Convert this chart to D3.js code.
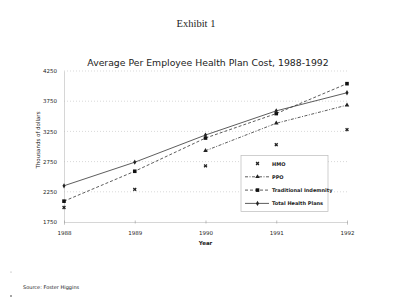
<!DOCTYPE html>
<html>
<head>
<meta charset="utf-8">
<script src="https://cdn.jsdelivr.net/npm/d3@7"></script>
<style>
  body { margin: 0; background: #fff; }
  svg { display: block; }
</style>
</head>
<body>
<script>
// chart data
var years = [1988, 1989, 1990, 1991, 1992];
var hmo = [1990, 2290, 2680, 3030, 3280];
var ppo = [null, null, 2930, 3385, 3685];
var traditional = [2095, 2590, 3140, 3545, 4040];
var totalPlans = [2350, 2740, 3190, 3590, 3890];
var yTicks = [1750, 2250, 2750, 3250, 3750, 4250];
var seriesNames = ['HMO', 'PPO', 'Traditional Indemnity', 'Total Health Plans'];

var W = 400, H = 305;
var svg = d3.select('body').append('svg').attr('width', W).attr('height', H);

var x = d3.scaleLinear().domain([1988, 1992]).range([64, 347]);
var y = d3.scaleLinear().domain([1750, 4250]).range([222, 71]);

svg.append('text').attr('x', 196).attr('y', 27).attr('text-anchor', 'middle')
  .attr('font-family', 'Liberation Serif, serif').attr('font-size', 10.5).attr('fill', '#222')
  .text('Exhibit 1');

svg.append('text').attr('x', 208).attr('y', 66).attr('text-anchor', 'middle')
  .attr('font-family', 'DejaVu Sans, sans-serif').attr('font-size', 9.3).attr('fill', '#222')
  .text('Average Per Employee Health Plan Cost, 1988-1992');

// dotted grid
svg.append('g').selectAll('line').data(yTicks.slice(1)).enter().append('line')
  .attr('x1', x(1988)).attr('x2', x(1992))
  .attr('y1', function (d) { return y(d); }).attr('y2', function (d) { return y(d); })
  .attr('stroke', '#c8c8c8').attr('stroke-width', 0.7).attr('stroke-dasharray', '1,2');

// axes
var yAxis = svg.append('g').attr('transform', 'translate(' + x(1988) + ',0)')
  .call(d3.axisLeft(y).tickValues(yTicks).tickFormat(d3.format('d')).tickSize(0).tickPadding(7));
var xAxis = svg.append('g').attr('transform', 'translate(0,' + y(1750) + ')')
  .call(d3.axisBottom(x).tickValues(years).tickFormat(d3.format('d')).tickSize(3).tickPadding(6));
[yAxis, xAxis].forEach(function (g) {
  g.select('.domain').attr('stroke', '#bbb').attr('stroke-width', 0.6);
  g.selectAll('.tick line').attr('stroke', '#999').attr('stroke-width', 0.6);
  g.selectAll('text').attr('font-family', 'DejaVu Sans, sans-serif').attr('font-size', 5.5).attr('fill', '#222');
});
xAxis.selectAll('.tick line').attr('transform', 'translate(0,-1.5)');

svg.append('text').attr('x', x(1990)).attr('y', 245).attr('text-anchor', 'middle')
  .attr('font-family', 'DejaVu Sans, sans-serif').attr('font-size', 5.5).attr('font-weight', 'bold')
  .attr('fill', '#222').text('Year');

svg.append('text').attr('transform', 'translate(40,' + 140 + ') rotate(-90)')
  .attr('text-anchor', 'middle').attr('font-family', 'DejaVu Sans, sans-serif')
  .attr('font-size', 5.5).attr('fill', '#222').text('Thousands of dollars');

// series
var series = [
  { name: seriesNames[0], values: hmo, dash: null, line: false, mark: 'x' },
  { name: seriesNames[1], values: ppo, dash: '3,1.5,1,1.5', line: true, mark: 'tri' },
  { name: seriesNames[2], values: traditional, dash: '3,2', line: true, mark: 'sq' },
  { name: seriesNames[3], values: totalPlans, dash: null, line: true, mark: 'dot' }
];

var lineGen = d3.line()
  .defined(function (d) { return d.v !== null; })
  .x(function (d) { return x(d.yr); })
  .y(function (d) { return y(d.v); });

function drawMark(g, kind, cx, cy) {
  if (kind === 'x') {
    g.append('path').attr('d', d3.symbol(d3.symbolCross, 9)())
      .attr('transform', 'translate(' + cx + ',' + cy + ') rotate(45)').attr('fill', '#222');
  } else if (kind === 'tri') {
    g.append('path').attr('d', d3.symbol(d3.symbolTriangle, 9)())
      .attr('transform', 'translate(' + cx + ',' + cy + ')').attr('fill', '#222');
  } else if (kind === 'sq') {
    g.append('path').attr('d', d3.symbol(d3.symbolSquare, 13)())
      .attr('transform', 'translate(' + cx + ',' + cy + ')').attr('fill', '#111');
  } else {
    g.append('path').attr('d', d3.symbol(d3.symbolDiamond, 8)())
      .attr('transform', 'translate(' + cx + ',' + cy + ')').attr('fill', '#222');
  }
}

series.forEach(function (s) {
  var pts = years.map(function (yr, i) { return { yr: yr, v: s.values[i] }; });
  var g = svg.append('g');
  if (s.line) {
    g.append('path').attr('d', lineGen(pts)).attr('fill', 'none')
      .attr('stroke', '#333').attr('stroke-width', 0.8)
      .attr('stroke-dasharray', s.dash);
  }
  pts.filter(function (d) { return d.v !== null; }).forEach(function (d) {
    drawMark(g, s.mark, x(d.yr), y(d.v));
  });
});

// legend
var leg = svg.append('g');
leg.append('rect').attr('x', 241).attr('y', 155.5).attr('width', 87).attr('height', 56)
  .attr('fill', '#fff').attr('stroke', '#bbb').attr('stroke-width', 0.7);
series.forEach(function (s, i) {
  var ly = 163.5 + i * 13.3;
  if (s.line) {
    leg.append('line').attr('x1', 245).attr('x2', 269).attr('y1', ly).attr('y2', ly)
      .attr('stroke', '#333').attr('stroke-width', 0.8).attr('stroke-dasharray', s.dash);
  }
  drawMark(leg, s.mark, 257.5, ly);
  leg.append('text').attr('x', 272).attr('y', ly + 2)
    .attr('font-family', 'DejaVu Sans, sans-serif').attr('font-size', 5).attr('font-weight', 'bold')
    .attr('fill', '#222').text(s.name);
});

svg.append('text').attr('x', 23).attr('y', 289)
  .attr('font-family', 'DejaVu Sans, sans-serif').attr('font-size', 5).attr('fill', '#222')
  .text('Source:  Foster Higgins');
svg.append('circle').attr('cx', 11).attr('cy', 272).attr('r', 0.6).attr('fill', '#999');
svg.append('circle').attr('cx', 11).attr('cy', 296).attr('r', 0.8).attr('fill', '#333');
</script>
</body>
</html>
